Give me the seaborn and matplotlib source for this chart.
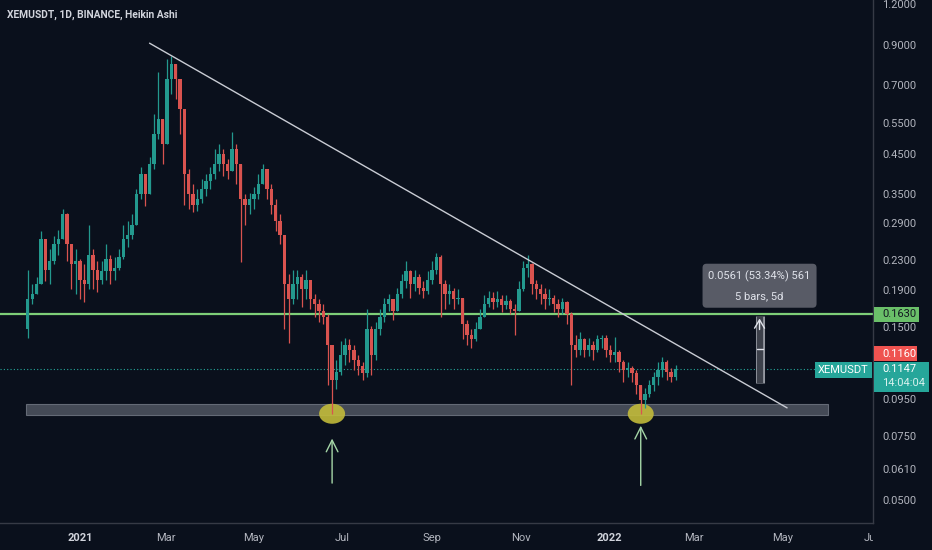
import numpy as np
import pandas as pd
import matplotlib
matplotlib.use("Agg")
import matplotlib.pyplot as plt
from matplotlib.patches import Rectangle, Ellipse, FancyBboxPatch
from matplotlib.transforms import IdentityTransform
import seaborn as sns

# ---------------------------------------------
# Data: 3-day Heikin Ashi candles
# ---------------------------------------------
first_date = "2020-11-26"
step_days = 3
first_open = 0.148

close = [0.179, 0.185, 0.197, 0.262, 0.216, 0.228, 0.254, 0.262, 0.307, 0.254,
         0.224, 0.228, 0.203, 0.197, 0.238, 0.216, 0.203, 0.214, 0.231, 0.214,
         0.219, 0.234, 0.262, 0.270, 0.288, 0.349, 0.396, 0.349, 0.422, 0.511,
         0.562, 0.480, 0.726, 0.798, 0.726, 0.599, 0.396, 0.349, 0.327, 0.338,
         0.360, 0.379, 0.396, 0.422, 0.450, 0.422, 0.404, 0.465, 0.422, 0.338,
         0.327, 0.338, 0.349, 0.372, 0.409, 0.360, 0.327, 0.294, 0.270, 0.197,
         0.179, 0.197, 0.206, 0.191, 0.203, 0.179, 0.174, 0.166, 0.160, 0.134,
         0.107, 0.113, 0.126, 0.134, 0.130, 0.122, 0.117, 0.112, 0.148, 0.126,
         0.148, 0.160, 0.174, 0.179, 0.166, 0.185, 0.201, 0.214, 0.197, 0.206,
         0.193, 0.189, 0.203, 0.216, 0.234, 0.197, 0.185, 0.189, 0.179, 0.181,
         0.153, 0.143, 0.139, 0.148, 0.160, 0.174, 0.181, 0.176, 0.179, 0.173,
         0.177, 0.168, 0.166, 0.191, 0.219, 0.224, 0.197, 0.191, 0.185, 0.179,
         0.181, 0.174, 0.168, 0.176, 0.163, 0.134, 0.130, 0.139, 0.130, 0.134,
         0.130, 0.139, 0.140, 0.130, 0.126, 0.128, 0.120, 0.114, 0.116, 0.112,
         0.104, 0.0945, 0.098, 0.104, 0.109, 0.114, 0.120, 0.113, 0.109, 0.1147]

high = [0.216, 0.197, 0.206, 0.276, 0.262, 0.246, 0.267, 0.279, 0.317, 0.310,
        0.254, 0.246, 0.231, 0.224, 0.288, 0.246, 0.228, 0.228, 0.254, 0.238,
        0.234, 0.246, 0.288, 0.294, 0.307, 0.360, 0.414, 0.396, 0.442, 0.581,
        0.758, 0.562, 0.824, 0.840, 0.798, 0.726, 0.599, 0.409, 0.372, 0.360,
        0.384, 0.396, 0.414, 0.465, 0.480, 0.465, 0.436, 0.518, 0.480, 0.422,
        0.349, 0.353, 0.365, 0.396, 0.422, 0.409, 0.372, 0.338, 0.307, 0.270,
        0.210, 0.216, 0.216, 0.210, 0.216, 0.203, 0.185, 0.179, 0.174, 0.163,
        0.134, 0.122, 0.137, 0.140, 0.139, 0.134, 0.126, 0.120, 0.168, 0.151,
        0.155, 0.168, 0.181, 0.185, 0.179, 0.193, 0.210, 0.228, 0.216, 0.216,
        0.210, 0.201, 0.214, 0.228, 0.241, 0.238, 0.203, 0.197, 0.193, 0.191,
        0.181, 0.157, 0.148, 0.155, 0.168, 0.184, 0.189, 0.187, 0.189, 0.184,
        0.184, 0.179, 0.174, 0.201, 0.228, 0.237, 0.226, 0.203, 0.197, 0.193,
        0.191, 0.184, 0.179, 0.181, 0.177, 0.165, 0.143, 0.145, 0.140, 0.140,
        0.137, 0.143, 0.143, 0.143, 0.134, 0.141, 0.130, 0.122, 0.120, 0.117,
        0.114, 0.104, 0.102, 0.107, 0.113, 0.120, 0.124, 0.122, 0.116, 0.118]

low = [0.140, 0.174, 0.185, 0.231, 0.201, 0.197, 0.224, 0.238, 0.262, 0.228,
       0.191, 0.185, 0.179, 0.176, 0.191, 0.191, 0.188, 0.197, 0.203, 0.197,
       0.203, 0.216, 0.231, 0.249, 0.262, 0.288, 0.338, 0.323, 0.349, 0.409,
       0.495, 0.422, 0.480, 0.660, 0.639, 0.511, 0.327, 0.317, 0.311, 0.313,
       0.331, 0.345, 0.360, 0.384, 0.404, 0.391, 0.384, 0.404, 0.372, 0.227,
       0.288, 0.307, 0.317, 0.338, 0.372, 0.338, 0.307, 0.276, 0.254, 0.148,
       0.136, 0.174, 0.179, 0.171, 0.179, 0.168, 0.160, 0.155, 0.153, 0.104,
       0.0865, 0.101, 0.111, 0.118, 0.120, 0.114, 0.111, 0.107, 0.109, 0.111,
       0.122, 0.143, 0.155, 0.166, 0.157, 0.168, 0.181, 0.193, 0.181, 0.189,
       0.185, 0.181, 0.185, 0.197, 0.210, 0.160, 0.168, 0.174, 0.168, 0.174,
       0.139, 0.134, 0.131, 0.137, 0.148, 0.160, 0.170, 0.168, 0.170, 0.165,
       0.168, 0.163, 0.143, 0.166, 0.189, 0.206, 0.185, 0.179, 0.174, 0.168,
       0.173, 0.165, 0.160, 0.163, 0.153, 0.104, 0.124, 0.126, 0.124, 0.125,
       0.122, 0.128, 0.131, 0.124, 0.120, 0.120, 0.113, 0.106, 0.109, 0.106,
       0.098, 0.0865, 0.090, 0.096, 0.100, 0.104, 0.109, 0.107, 0.106, 0.107]

resistance = 0.1630
last_price = 0.1147
prev_close = 0.1160
support_lo, support_hi = 0.0859, 0.0921
support_from, support_to = "2020-11-25", "2022-06-01"

trend_dates = ["2021-02-18", "2022-05-04"]
trend_prices = [0.912, 0.0898]

measure_date = "2022-04-15"
measure_lo, measure_hi = 0.1052, 0.1613
measure_text = ["0.0561 (53.34%) 561", "5 bars, 5d"]

arrow_tips = [0.0752, 0.0816]
arrow_tails = [0.0547, 0.0539]

y_ticks = [1.2, 0.9, 0.7, 0.55, 0.45, 0.35, 0.29, 0.23, 0.19, 0.15,
           0.095, 0.075, 0.061, 0.05]
x_tick_dates = ["2021-01-01", "2021-03-01", "2021-05-01", "2021-07-01",
                "2021-09-01", "2021-11-01", "2022-01-01", "2022-03-01",
                "2022-05-01", "2022-07-01"]
x_tick_labels = ["2021", "Mar", "May", "Jul", "Sep", "Nov",
                 "2022", "Mar", "May", "Jul"]

title = "XEMUSDT, 1D, BINANCE, Heikin Ashi"

# ---------------------------------------------
# Style
# ---------------------------------------------
BG = "#0a101c"
UP = "#23998e"
DOWN = "#d9534f"
TXT = "#b2b5be"
sns.set_theme(style="dark", rc={"axes.facecolor": BG, "figure.facecolor": BG,
                                "savefig.facecolor": BG})
plt.rcParams["font.family"] = ["Roboto", "DejaVu Sans"]

ref = pd.Timestamp("2021-01-01")


def day(d):
    return (pd.Timestamp(d) - ref).days


W, H = 932, 550
fig = plt.figure(figsize=(W / 100, H / 100), dpi=100)
ax = fig.add_axes([0, 27 / H, 873 / W, 523 / H])
ax.set_yscale("log")
ax.set_ylim(0.0432, 1.2)
ax.set_xlim(-55.2, 547.3)

# candles
c = np.array(close)
o = np.array([first_open] + close[:-1])
hi = np.maximum(np.array(high), np.maximum(o, c))
lo = np.minimum(np.array(low), np.minimum(o, c))
dates = pd.date_range(first_date, periods=len(c), freq=f"{step_days}D")
x = np.array([(d - ref).days for d in dates], dtype=float)
cols = np.where(c >= o, UP, DOWN)

ax.vlines(x, lo, hi, colors=cols, lw=0.9, zorder=3)
ax.bar(x, np.abs(c - o), bottom=np.minimum(o, c), width=2.3, color=cols,
       linewidth=0, zorder=3)

# support band
ax.add_patch(Rectangle((day(support_from), support_lo),
                       day(support_to) - day(support_from),
                       support_hi - support_lo, fc="#4b515d", ec="#6b717d",
                       lw=0.8, alpha=0.9, zorder=2))

# resistance and last price
ax.axhline(resistance, color="#7ecf78", lw=1.6, zorder=2)
ax.axhline(last_price, color="#26a69a", lw=0.8, ls=(0, (1, 2)), zorder=1)

# trend line
ax.plot([day(d) for d in trend_dates], trend_prices, color="#c9ccd4",
        lw=1.0, zorder=4)

# bottoms: ellipses + arrows
bottoms = np.sort(np.argsort(lo)[:2])
for k, idx in enumerate(bottoms):
    xd, yd = ax.transData.transform((x[idx], lo[idx]))
    ax.add_patch(Ellipse((xd, yd), 26, 20, transform=IdentityTransform(),
                         fc="#c2bb3a", ec="none", alpha=0.9, zorder=2.5))
    ax.annotate("", xy=(x[idx], arrow_tips[k]), xytext=(x[idx], arrow_tails[k]),
                arrowprops=dict(arrowstyle="->,head_length=0.7,head_width=0.35",
                                color="#a5d6a7", lw=1.0), zorder=4)

# measure tool
md = day(measure_date)
ax.plot([md, md], [measure_lo, measure_hi], color="#9598a1", lw=6.5,
        solid_capstyle="butt", zorder=4)
ax.plot([md, md], [measure_lo, measure_hi], color="#3d414b", lw=4.5,
        solid_capstyle="butt", zorder=4)
ax.annotate("", xy=(md, measure_hi), xytext=(md, measure_hi * 0.9),
            arrowprops=dict(arrowstyle="->,head_length=0.5,head_width=0.3",
                            color="#e0e3eb", lw=1.0), zorder=5)
mid = np.sqrt(measure_lo * measure_hi)
xm, ym = ax.transData.transform((md, mid))
ax.plot([xm - 3, xm + 3], [ym, ym], color="#e0e3eb", lw=1.0,
        transform=IdentityTransform(), zorder=5)
xt, yt = ax.transData.transform((md, measure_hi))
ax.add_patch(FancyBboxPatch((xt - 57, yt + 8), 114, 44,
                            boxstyle="round,pad=0,rounding_size=4",
                            transform=IdentityTransform(), fc="#5d606b",
                            ec="none", alpha=0.95, zorder=5))
fig.text(xt, yt + 39, measure_text[0], transform=IdentityTransform(),
         ha="center", va="center", color="#e0e3eb", fontsize=8)
fig.text(xt, yt + 20, measure_text[1], transform=IdentityTransform(),
         ha="center", va="center", color="#e0e3eb", fontsize=8)

# axes styling
for s in ["top", "left"]:
    ax.spines[s].set_visible(False)
for s in ["right", "bottom"]:
    ax.spines[s].set_color("#363a45")
    ax.spines[s].set_linewidth(1.0)
ax.grid(False)

ax.yaxis.tick_right()
ax.set_yticks(y_ticks)
ax.set_yticks([], minor=True)
ax.set_yticklabels([f"{v:.4f}" for v in y_ticks])
ax.set_xticks([day(d) for d in x_tick_dates])
ax.set_xticklabels(x_tick_labels)
ax.tick_params(axis="y", length=0, pad=6.5, labelsize=8, labelcolor=TXT)
ax.tick_params(axis="x", length=0, pad=7, labelsize=8, labelcolor=TXT)
clip = Rectangle((0, 0), 873 / W, 1, transform=fig.transFigure)
for lbl in ax.get_xticklabels():
    lbl.set_clip_path(clip)
    if lbl.get_text().isdigit():
        lbl.set_fontweight("bold")
        lbl.set_color("#d1d4dc")
for lbl in ax.get_yticklabels():
    if lbl.get_text() == "1.2000":
        lbl.set_va("top")


# price tags on the scale
def tag(yc, x0, x1, h, fc):
    fig.add_artist(Rectangle((x0, yc - h / 2), x1 - x0, h,
                             transform=IdentityTransform(), fc=fc, ec="none",
                             zorder=5))


def tag_text(xp, yp, s, color, ha="left"):
    fig.text(xp, yp, s, transform=IdentityTransform(), ha=ha, va="center",
             color=color, fontsize=8, zorder=6)


_, y_res = ax.transData.transform((0, resistance))
tag(y_res, 874, 919, 15, "#6abf69")
tag_text(882, y_res, f"{resistance:.4f}", "#131722")

_, y_last = ax.transData.transform((0, last_price))
tag(y_last + 15.5, 874, 917, 15, "#ef5350")
tag_text(882, y_last + 15.5, f"{prev_close:.4f}", "white")
tag(y_last - 8, 874, 929, 30, "#26a69a")
tag_text(882, y_last, f"{last_price:.4f}", "white")
tag_text(882, y_last - 14, "14:04:04", "#d9f2ef")
tag(y_last - 1, 815, 872, 16, "#26a69a")
tag_text(843.5, y_last - 1, "XEMUSDT", "white", ha="center")

fig.text(7 / W, 1 - 15 / H, title, fontsize=7.4, fontweight="bold",
         color="#d1d4dc", va="center")

fig.savefig("out.png", dpi=100)
